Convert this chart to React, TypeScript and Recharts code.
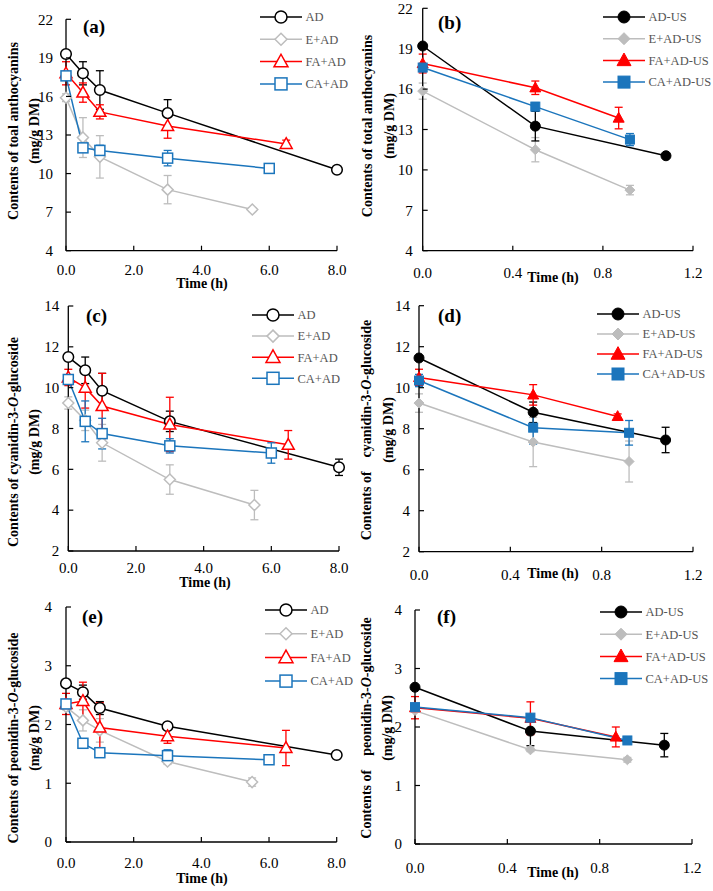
import React from 'react';
import { LineChart, Line, XAxis, YAxis, ErrorBar, Legend } from 'recharts';

const SERIF = '"Times New Roman", "Liberation Serif", serif';

// drying times (h)
const timeAD = [0, 0.5, 1, 3, 8];
const timeE = [0, 0.5, 1, 3, 5.5];
const timeFA = [0, 0.5, 1, 3, 6.5];
const timeCA = [0, 0.5, 1, 3, 6];
const timeADUS = [0, 0.5, 1.08];
const timeEUS = [0, 0.5, 0.92];
const timeFAUS = [0, 0.5, 0.87];
const timeCAUS = [0, 0.5, 0.92];

// (a) total anthocyanins, AD
const totAD = [19.3, 17.8, 16.5, 14.7, 10.3];
const totADErr = [0.1, 0.9, 1.5, 1.05, 0.1];
const totE = [15.9, 12.8, 11.3, 8.75, 7.2];
const totEErr = [0.3, 1.55, 1.65, 1.1, 0.15];
const totFA = [17.8, 16.3, 14.8, 13.7, 12.3];
const totFAErr = [0.9, 0.75, 0.55, 0.95, 0.3];
const totCA = [17.6, 12.0, 11.8, 11.2, 10.4];
const totCAErr = [0.3, 0.3, 0.4, 0.6, 0.2];

// (b) total anthocyanins, AD-US
const totADUS = [19.2, 13.25, 11.05];
const totADUSErr = [0.1, 1.1, 0.1];
const totEUS = [15.85, 11.5, 8.5];
const totEUSErr = [0.6, 0.9, 0.35];
const totFAUS = [17.9, 16.1, 13.85];
const totFAUSErr = [0.7, 0.5, 0.8];
const totCAUS = [17.6, 14.7, 12.25];
const totCAUSErr = [0.3, 0.3, 0.45];

// (c) cyanidin-3-O-glucoside, AD
const cyAD = [11.5, 10.85, 9.85, 8.35, 6.1];
const cyADErr = [0.1, 0.65, 0.85, 0.5, 0.4];
const cyE = [9.25, 8.4, 7.3, 5.5, 4.25];
const cyEErr = [0.3, 0.5, 0.9, 0.72, 0.72];
const cyFA = [10.5, 10.0, 9.1, 8.2, 7.2];
const cyFAErr = [0.4, 1.0, 1.6, 1.33, 0.7];
const cyCA = [10.4, 8.35, 7.75, 7.15, 6.8];
const cyCAErr = [0.2, 1.0, 0.75, 0.35, 0.5];

// (d) cyanidin-3-O-glucoside, AD-US
const cyADUS = [11.45, 8.8, 7.45];
const cyADUSErr = [0.1, 0.5, 0.62];
const cyEUS = [9.25, 7.35, 6.4];
const cyEUSErr = [0.45, 1.2, 1.0];
const cyFAUS = [10.5, 9.65, 8.6];
const cyFAUSErr = [0.4, 0.5, 0.12];
const cyCAUS = [10.35, 8.05, 7.8];
const cyCAUSErr = [0.3, 0.8, 0.6];

// (e) peonidin-3-O-glucoside, AD
const peAD = [2.7, 2.55, 2.28, 1.97, 1.48];
const peADErr = [0.02, 0.12, 0.11, 0.05, 0.03];
const peE = [2.3, 2.07, 1.9, 1.37, 1.02];
const peEErr = [0.05, 0.18, 0.2, 0.05, 0.07];
const peFA = [2.35, 2.4, 1.95, 1.8, 1.6];
const peFAErr = [0.18, 0.32, 0.42, 0.12, 0.3];
const peCA = [2.35, 1.68, 1.52, 1.47, 1.4];
const peCAErr = [0.05, 0.08, 0.07, 0.1, 0.03];

// (f) peonidin-3-O-glucoside, AD-US
const peADUS = [2.68, 1.93, 1.69];
const peADUSErr = [0.02, 0.25, 0.2];
const peEUS = [2.28, 1.61, 1.44];
const peEUSErr = [0.02, 0.03, 0.04];
const peFAUS = [2.33, 2.15, 1.83];
const peFAUSErr = [0.19, 0.28, 0.17];
const peCAUS = [2.34, 2.16, 1.77];
const peCAUSErr = [0.02, 0.03, 0.02];

const yTicksTot = [4, 7, 10, 13, 16, 19, 22];
const yTicksCy = [2, 4, 6, 8, 10, 12, 14];
const yTicksPe = [0, 1, 2, 3, 4];
const xTicksAD = [0, 2, 4, 6, 8];
const xTicksUS = [0, 0.4, 0.8, 1.2];

const namesAD = ['AD', 'E+AD', 'FA+AD', 'CA+AD'];
const namesUS = ['AD-US', 'E+AD-US', 'FA+AD-US', 'CA+AD-US'];
const colors = ['#000000', '#BDBDBD', '#FF0000', '#1B75BC'];
const shapes = ['circle', 'diamond', 'triangle', 'square'];

const build = (t: number[], v: number[], e: number[]) =>
  t.map((tt, i) => ({ t: tt, v: v[i], e: e[i] }));

function marker(kind: string, cx: number, cy: number, s: number, color: string, filled: boolean, key?: string) {
  const fill = filled ? color : '#fff';
  const sw = filled ? 1 : 1.5;
  if (kind === 'circle') return <circle key={key} cx={cx} cy={cy} r={s} fill={fill} stroke={color} strokeWidth={sw} />;
  if (kind === 'diamond')
    return <path key={key} d={`M${cx},${cy - s}L${cx + s},${cy}L${cx},${cy + s}L${cx - s},${cy}Z`} fill={fill} stroke={color} strokeWidth={sw} />;
  if (kind === 'triangle')
    return <path key={key} d={`M${cx},${cy - s * 1.05}L${cx + s},${cy + s * 0.75}L${cx - s},${cy + s * 0.75}Z`} fill={fill} stroke={color} strokeWidth={sw} />;
  return <rect key={key} x={cx - s} y={cy - s} width={s * 2} height={s * 2} fill={fill} stroke={color} strokeWidth={sw} />;
}

interface PanelDef {
  id: string;
  box: { x: number; y: number; w: number; h: number };
  plot: { l: number; r: number; t: number; b: number };
  yDomain: [number, number];
  yTicks: number[];
  xDomain: [number, number];
  xTicks: number[];
  series: { t: number; v: number; e: number }[][];
  us: boolean;
  yGap: number;
  xLabelDy: number;
  legend: { x: number; y: number; gap: number };
}

const panels: PanelDef[] = [
  {
    id: 'a', box: { x: 0, y: 0, w: 356, h: 295 }, plot: { l: 66, r: 337, t: 19.3, b: 250.7 },
    yDomain: [4, 22], yTicks: yTicksTot, xDomain: [0, 8], xTicks: xTicksAD, us: false, yGap: 13, xLabelDy: 24,
    series: [build(timeAD, totAD, totADErr), build(timeE, totE, totEErr), build(timeFA, totFA, totFAErr), build(timeCA, totCA, totCAErr)],
    legend: { x: 260, y: 16.5, gap: 22.3 },
  },
  {
    id: 'b', box: { x: 356, y: 0, w: 357, h: 295 }, plot: { l: 422.7, r: 693, t: 8.3, b: 250.7 },
    yDomain: [4, 22], yTicks: yTicksTot, xDomain: [0, 1.2], xTicks: xTicksUS, us: true, yGap: 10, xLabelDy: 27,
    series: [build(timeADUS, totADUS, totADUSErr), build(timeEUS, totEUS, totEUSErr), build(timeFAUS, totFAUS, totFAUSErr), build(timeCAUS, totCAUS, totCAUSErr)],
    legend: { x: 603, y: 16.7, gap: 21.7 },
  },
  {
    id: 'c', box: { x: 0, y: 295, w: 356, h: 295 }, plot: { l: 68.3, r: 339, t: 306, b: 551 },
    yDomain: [2, 14], yTicks: yTicksCy, xDomain: [0, 8], xTicks: xTicksAD, us: false, yGap: 9, xLabelDy: 22,
    series: [build(timeAD, cyAD, cyADErr), build(timeE, cyE, cyEErr), build(timeFA, cyFA, cyFAErr), build(timeCA, cyCA, cyCAErr)],
    legend: { x: 252, y: 315, gap: 21.1 },
  },
  {
    id: 'd', box: { x: 356, y: 295, w: 357, h: 295 }, plot: { l: 419, r: 693, t: 305.7, b: 551.7 },
    yDomain: [2, 14], yTicks: yTicksCy, xDomain: [0, 1.2], xTicks: xTicksUS, us: true, yGap: 9, xLabelDy: 28,
    series: [build(timeADUS, cyADUS, cyADUSErr), build(timeEUS, cyEUS, cyEUSErr), build(timeFAUS, cyFAUS, cyFAUSErr), build(timeCAUS, cyCAUS, cyCAUSErr)],
    legend: { x: 597, y: 314, gap: 20 },
  },
  {
    id: 'e', box: { x: 0, y: 590, w: 356, h: 301 }, plot: { l: 66, r: 336.7, t: 607, b: 842 },
    yDomain: [0, 4], yTicks: yTicksPe, xDomain: [0, 8], xTicks: xTicksAD, us: false, yGap: 14, xLabelDy: 26,
    series: [build(timeAD, peAD, peADErr), build(timeE, peE, peEErr), build(timeFA, peFA, peFAErr), build(timeCA, peCA, peCAErr)],
    legend: { x: 265, y: 610, gap: 23.7 },
  },
  {
    id: 'f', box: { x: 356, y: 590, w: 357, h: 301 }, plot: { l: 415, r: 692, t: 610, b: 844 },
    yDomain: [0, 4], yTicks: yTicksPe, xDomain: [0, 1.2], xTicks: xTicksUS, us: true, yGap: 13, xLabelDy: 29,
    series: [build(timeADUS, peADUS, peADUSErr), build(timeEUS, peEUS, peEUSErr), build(timeFAUS, peFAUS, peFAUSErr), build(timeCAUS, peCAUS, peCAUSErr)],
    legend: { x: 600, y: 611.7, gap: 22.2 },
  },
];

const drawOrder = [1, 0, 2, 3];

function Panel({ p }: { p: PanelDef }) {
  const X_H = 30;
  const margin = {
    top: p.plot.t - p.box.y,
    right: p.box.x + p.box.w - p.plot.r,
    left: 0,
    bottom: p.box.y + p.box.h - p.plot.b - X_H,
  };
  const names = p.us ? namesUS : namesAD;
  const lgLeft = p.legend.x - p.box.x - 10;
  const lgTop = p.legend.y - p.box.y - 12;
  const lgW = p.box.x + p.box.w - p.legend.x + 10;

  const legendContent = () => (
    <svg width={lgW} height={100} style={{ display: 'block', overflow: 'visible' }}>
      {names.map((n, i) => {
        const cy = 12 + i * p.legend.gap;
        const s = [6, 6, 7, 6][i];
        return (
          <g key={n}>
            <line x1={10} x2={52} y1={cy} y2={cy} stroke={colors[i]} strokeWidth={1.5} />
            {marker(shapes[i], 31, cy, s, colors[i], p.us)}
            <text x={55.5} y={cy} dy="0.35em" fontFamily={SERIF} fontSize={12.5} fill="#555">{n}</text>
          </g>
        );
      })}
    </svg>
  );

  return (
    <div style={{ position: 'absolute', left: p.box.x, top: p.box.y }}>
      <LineChart width={p.box.w} height={p.box.h} margin={margin}>
        <XAxis
          type="number"
          dataKey="t"
          domain={p.xDomain}
          ticks={p.xTicks}
          interval={0}
          height={X_H}
          tickSize={0}
          tickMargin={0}
          tickLine={false}
          axisLine={{ stroke: '#000', strokeWidth: 1.3 }}
          tick={(tp: any) => (
            <g key={`x-${tp.payload.value}`}>
              <line x1={tp.x} x2={tp.x} y1={tp.y} y2={tp.y - 5} stroke="#000" strokeWidth={1.2} />
              <text x={tp.x} y={tp.y + p.xLabelDy} textAnchor="middle" fontFamily={SERIF} fontSize={15} fill="#000">
                {Number(tp.payload.value).toFixed(1)}
              </text>
            </g>
          )}
        />
        <YAxis
          type="number"
          domain={p.yDomain}
          ticks={p.yTicks}
          interval={0}
          width={p.plot.l - p.box.x}
          tickSize={0}
          tickMargin={0}
          tickLine={false}
          axisLine={{ stroke: '#000', strokeWidth: 1.3 }}
          tick={(tp: any) => (
            <g key={`y-${tp.payload.value}`}>
              <line x1={tp.x} x2={tp.x + 5} y1={tp.y} y2={tp.y} stroke="#000" strokeWidth={1.2} />
              <text x={tp.x - p.yGap} y={tp.y} dy="0.35em" textAnchor="end" fontFamily={SERIF} fontSize={15} fill="#000">
                {tp.payload.value}
              </text>
            </g>
          )}
        />
        <Legend
          layout="vertical"
          align="center"
          verticalAlign="middle"
          content={legendContent}
          wrapperStyle={{ left: lgLeft, top: lgTop, width: lgW, height: 100, right: 'auto', bottom: 'auto' }}
        />
        {drawOrder.map((i) => {
          const s = p.us ? [5, 5, 5.5, 4.5][i] : [5.3, 5.5, 6, 5][i];
          return (
            <Line
              key={names[i]}
              data={p.series[i]}
              dataKey="v"
              name={names[i]}
              type="linear"
              stroke={colors[i]}
              strokeWidth={1.5}
              isAnimationActive={false}
              activeDot={false}
              dot={(dp: any) => marker(shapes[i], dp.cx, dp.cy, s, colors[i], p.us, `${p.id}-${i}-${dp.index}`)}
            >
              <ErrorBar dataKey="e" direction="y" width={4} stroke={colors[i]} strokeWidth={1.3} />
            </Line>
          );
        })}
      </LineChart>
    </div>
  );
}

const yTitles = [
  { x1: 13, x2: 34, cy: 131, main: 'Contents of toal anthocyanins', it: null },
  { x1: 367, x2: 389, cy: 126, main: 'Contents of total anthocyanins', it: null },
  { x1: 13, x2: 34, cy: 442, main: 'Contents of cyanidin-3-', it: 'cy' },
  { x1: 366, x2: 388, cy: 430, main: 'Contents of    cyanidin-3-', it: 'cy' },
  { x1: 13, x2: 34, cy: 738, main: 'Contents of peonidin-3-', it: 'pe' },
  { x1: 366, x2: 387, cy: 728, main: 'Contents of    peonidin-3-', it: 'pe' },
];

const timeTitles = [
  { x: 202, y: 288 }, { x: 553, y: 282 },
  { x: 205, y: 587 }, { x: 553, y: 578 },
  { x: 202, y: 883 }, { x: 553, y: 877 },
];

const letters = [
  { t: '(a)', x: 83, y: 33 }, { t: '(b)', x: 438, y: 29 },
  { t: '(c)', x: 86, y: 322 }, { t: '(d)', x: 438, y: 322 },
  { t: '(e)', x: 82, y: 623 }, { t: '(f)', x: 437, y: 623 },
];

export default function App() {
  return (
    <div style={{ position: 'relative', width: 713, height: 891, background: '#fff', overflow: 'hidden' }}>
      <style>{'body{margin:0;}'}</style>
      {panels.map((p) => (
        <Panel key={p.id} p={p} />
      ))}
      <svg width={713} height={891} style={{ position: 'absolute', left: 0, top: 0, pointerEvents: 'none' }}>
        {yTitles.map((t, i) => (
          <g key={i} fontFamily={SERIF} fontSize={14} fontWeight="bold" fill="#000">
            <text
              x={t.x1}
              y={t.cy}
              textAnchor="middle"
              dominantBaseline="central"
              transform={`rotate(-90 ${t.x1} ${t.cy})`}
              style={{ whiteSpace: 'pre' }}
            >
              {t.main}
              {t.it && <tspan fontStyle="italic">O</tspan>}
              {t.it && '-glucoside'}
            </text>
            <text
              x={t.x2}
              y={t.cy}
              textAnchor="middle"
              dominantBaseline="central"
              transform={`rotate(-90 ${t.x2} ${t.cy})`}
            >
              (mg/g DM)
            </text>
          </g>
        ))}
        {timeTitles.map((t, i) => (
          <text key={i} x={t.x} y={t.y} textAnchor="middle" fontFamily={SERIF} fontSize={14} fontWeight="bold" fill="#000">
            Time (h)
          </text>
        ))}
        {letters.map((l) => (
          <text key={l.t} x={l.x} y={l.y} fontFamily={SERIF} fontSize={19} fontWeight="bold" fill="#000">
            {l.t}
          </text>
        ))}
      </svg>
    </div>
  );
}
